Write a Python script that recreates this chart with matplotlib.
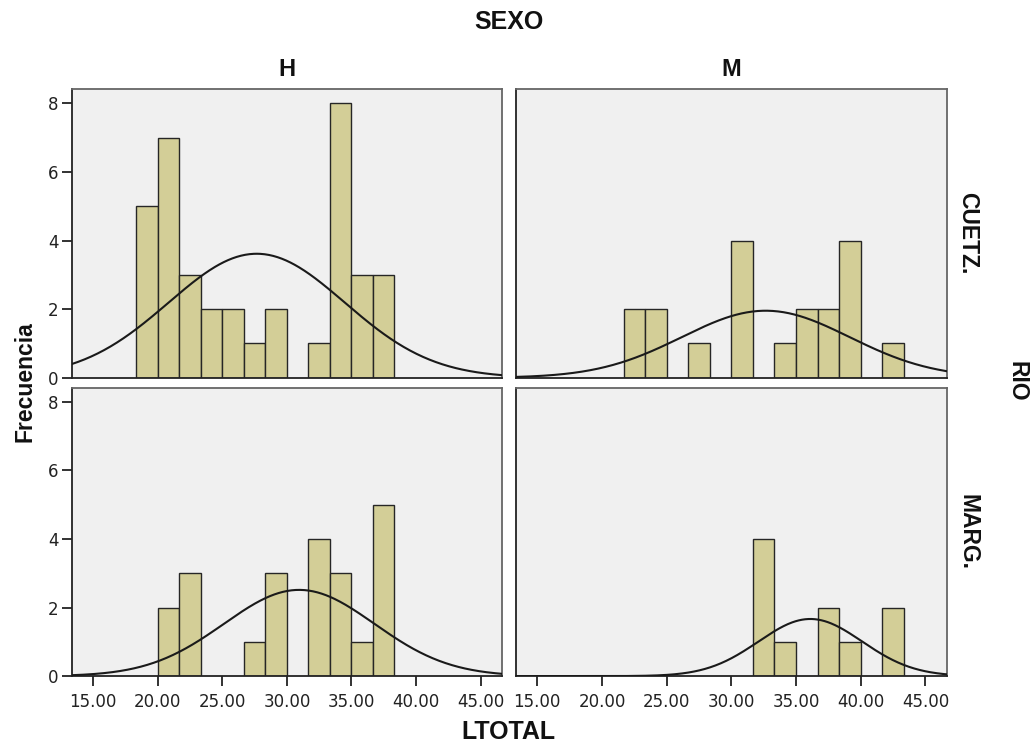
import numpy as np
import matplotlib.pyplot as plt

plt.rcParams['font.family'] = ['Liberation Sans', 'DejaVu Sans']

# bin edges of the histogram (LTOTAL)
bin_edges = [18.33, 20.00, 21.67, 23.33, 25.00, 26.67, 28.33, 30.00,
             31.67, 33.33, 35.00, 36.67, 38.33, 40.00, 41.67, 43.33]

sexo = ["H", "M"]
rio = ["CUETZ.", "MARG."]

# counts per bin, one list per panel
cuetz_h = [5, 7, 3, 2, 2, 1, 2, 0, 1, 8, 3, 3, 0, 0, 0]
cuetz_m = [0, 0, 2, 2, 0, 1, 0, 4, 0, 1, 2, 2, 4, 0, 1]
marg_h = [0, 2, 3, 0, 0, 1, 3, 0, 4, 3, 1, 5, 0, 0, 0]
marg_m = [0, 0, 0, 0, 0, 0, 0, 0, 4, 1, 0, 2, 1, 0, 2]

# fitted normal curve: mean, std. dev.
cuetz_h_fit = (27.66, 6.82)
cuetz_m_fit = (32.65, 6.48)
marg_h_fit = (30.95, 5.83)
marg_m_fit = (36.10, 4.00)

counts = [[cuetz_h, cuetz_m], [marg_h, marg_m]]
fits = [[cuetz_h_fit, cuetz_m_fit], [marg_h_fit, marg_m_fit]]

x_ticks = [15, 20, 25, 30, 35, 40, 45]
y_ticks = [0, 2, 4, 6, 8]

bar_color = "#D3CE97"
bg_color = "#F0F0F0"

W, H = 1034, 744
fig = plt.figure(figsize=(W / 100, H / 100), dpi=100)

lefts = [71.7, 515.7]
widths = [430.0, 431.0]
tops = [89.3, 387.7]
height = 288.4

edges = np.array(bin_edges)
binw = np.diff(edges)
xs = np.linspace(13.33, 46.64, 400)

for r in range(2):
    for c in range(2):
        ax = fig.add_axes([lefts[c] / W, 1 - (tops[r] + height) / H,
                           widths[c] / W, height / H])
        ax.set_facecolor(bg_color)
        cnt = np.array(counts[r][c])
        keep = cnt > 0
        ax.bar(edges[:-1][keep], cnt[keep], width=binw[keep], align="edge",
               color=bar_color, edgecolor="#262626", linewidth=1.0, zorder=2)
        mu, sd = fits[r][c]
        n = cnt.sum()
        curve = n * binw[0] / (sd * np.sqrt(2 * np.pi)) * np.exp(-(xs - mu) ** 2 / (2 * sd ** 2))
        ax.plot(xs, curve, color="#1a1a1a", lw=1.5, zorder=3)
        ax.set_xlim(13.33, 46.64)
        ax.set_ylim(0, 8.41)
        for s in ["top", "right"]:
            ax.spines[s].set_color("#666666")
            ax.spines[s].set_linewidth(1.3)
        for s in ["left", "bottom"]:
            ax.spines[s].set_color("#222222")
            ax.spines[s].set_linewidth(1.3)
        ax.set_xticks(x_ticks)
        ax.set_yticks(y_ticks)
        ax.tick_params(direction="out", length=7.5, width=1.3, color="#222222",
                       labelcolor="#222222", pad=2)
        ax.tick_params(axis="x", pad=4.5)
        if r == 1:
            ax.set_xticklabels(["%.2f" % v for v in x_ticks], family="DejaVu Sans", fontsize=12)
        else:
            ax.tick_params(axis="x", bottom=False, labelbottom=False)
        if c == 0:
            ax.set_yticklabels([str(v) for v in y_ticks], family="DejaVu Sans", fontsize=12)
        else:
            ax.tick_params(axis="y", left=False, labelleft=False)

lab = dict(fontweight="bold", color="#111111", ha="center", va="center")
fig.text(509 / W, 1 - 22 / H, "SEXO", fontsize=18, **lab)
fig.text(286.7 / W, 1 - 69.5 / H, sexo[0], fontsize=17, **lab)
fig.text(731.2 / W, 1 - 69.5 / H, sexo[1], fontsize=17, **lab)
fig.text(968 / W, 1 - 233.5 / H, rio[0], rotation=-90, fontsize=16.5, **lab)
fig.text(968 / W, 1 - 532 / H, rio[1], rotation=-90, fontsize=16.5, **lab)
fig.text(1017 / W, 1 - 381 / H, "RIO", rotation=-90, fontsize=16.5, **lab)
fig.text(25 / W, 1 - 382 / H, "Frecuencia", rotation=90, fontsize=16.5, **lab)
fig.text(508 / W, 1 - 732 / H, "LTOTAL", fontsize=18, **lab)

fig.savefig("out.png", dpi=100)
